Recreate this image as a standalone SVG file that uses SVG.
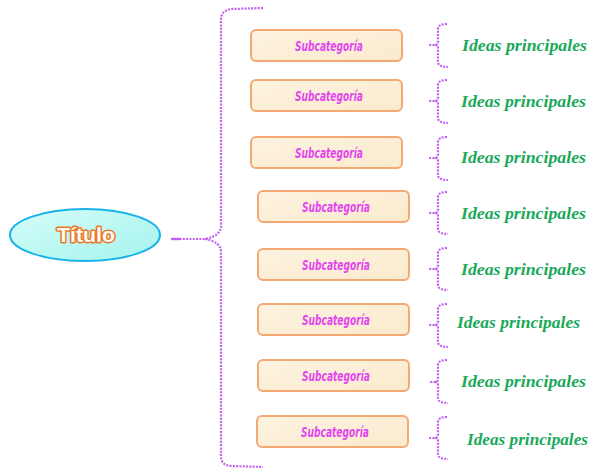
<svg xmlns="http://www.w3.org/2000/svg" width="590" height="468" viewBox="0 0 590 468">
<defs>
<linearGradient id="gEll" x1="0" y1="0" x2="1" y2="1">
<stop offset="0" stop-color="#d8fdf9"/>
<stop offset="1" stop-color="#a2f3ec"/>
</linearGradient>
<linearGradient id="gBox" x1="0" y1="0" x2="1" y2="1">
<stop offset="0" stop-color="#fdf3e0"/>
<stop offset="1" stop-color="#fbeacd"/>
</linearGradient>
<style>
.box{fill:url(#gBox);stroke:#f4a974;stroke-width:2}
.sub{font-family:"DejaVu Sans","Liberation Sans",sans-serif;font-style:italic;font-weight:bold;font-size:14.5px;fill:#e246f0;text-anchor:middle}
.idea{font-family:"Liberation Serif","DejaVu Serif",serif;font-style:italic;font-weight:bold;font-size:17px;fill:#1aa85a}
.dot{fill:none;stroke:#c25ef0;stroke-width:2.2;stroke-dasharray:2 1.3}
</style>
</defs>
<rect width="590" height="468" fill="#ffffff"/>
<g id="connectors">
<path class="dot" d="M263 8 L232 9 Q221 10 221 20 L221 226 Q221 236 205 239 L178 239 M205 239 Q221 242 221 252 L221 456 Q221 466 232 466 L263 467"/>
<line x1="171" y1="239" x2="180" y2="239" stroke="#c25ef0" stroke-width="2.4"/>
<path class="dot" d="M447 24 Q438 24 438 29 L438 42 Q438 45 435 45 L429 45 M435 45 Q438 45 438 48 L438 62 Q438 67 448 67"/>
<path class="dot" d="M447 80 Q438 80 438 85 L438 98 Q438 101 435 101 L429 101 M435 101 Q438 101 438 104 L438 118 Q438 123 448 123"/>
<path class="dot" d="M447 137 Q438 137 438 142 L438 155 Q438 158 435 158 L429 158 M435 158 Q438 158 438 161 L438 175 Q438 180 448 180"/>
<path class="dot" d="M447 192 Q438 192 438 197 L438 210 Q438 213 435 213 L429 213 M435 213 Q438 213 438 216 L438 229 Q438 234 448 234"/>
<path class="dot" d="M447 248 Q438 248 438 253 L438 266 Q438 269 435 269 L429 269 M435 269 Q438 269 438 272 L438 285 Q438 290 448 290"/>
<path class="dot" d="M447 304 Q438 304 438 309 L438 322 Q438 325 435 325 L429 325 M435 325 Q438 325 438 328 L438 342 Q438 347 448 347"/>
<path class="dot" d="M447 360 Q438 360 438 365 L438 379 Q438 382 435 382 L429 382 M435 382 Q438 382 438 385 L438 398 Q438 403 448 403"/>
<path class="dot" d="M447 417 Q438 417 438 422 L438 435 Q438 438 435 438 L429 438 M435 438 Q438 438 438 441 L438 454 Q438 459 448 459"/>
</g>
<g id="titulo">
<ellipse cx="85" cy="235" rx="75" ry="26" fill="url(#gEll)" stroke="#18b2ea" stroke-width="2"/>
<text x="86" y="242" text-anchor="middle" font-family="Liberation Sans, DejaVu Sans, sans-serif" font-weight="bold" font-size="20" textLength="58" lengthAdjust="spacingAndGlyphs" fill="#fff8f0" stroke="#e8782a" stroke-width="3" stroke-linejoin="round" paint-order="stroke">Título</text>
</g>
<g id="sub1"><rect class="box" x="251" y="30" width="151" height="31" rx="5"/><text class="sub" x="329" y="51" textLength="68" lengthAdjust="spacingAndGlyphs">Subcategoría</text></g>
<g id="sub2"><rect class="box" x="251" y="80" width="151" height="31" rx="5"/><text class="sub" x="329" y="101" textLength="68" lengthAdjust="spacingAndGlyphs">Subcategoría</text></g>
<g id="sub3"><rect class="box" x="251" y="137" width="151" height="31" rx="5"/><text class="sub" x="329" y="158" textLength="68" lengthAdjust="spacingAndGlyphs">Subcategoría</text></g>
<g id="sub4"><rect class="box" x="258" y="191" width="151" height="31" rx="5"/><text class="sub" x="336" y="212" textLength="68" lengthAdjust="spacingAndGlyphs">Subcategoría</text></g>
<g id="sub5"><rect class="box" x="258" y="249" width="151" height="31" rx="5"/><text class="sub" x="336" y="270" textLength="68" lengthAdjust="spacingAndGlyphs">Subcategoría</text></g>
<g id="sub6"><rect class="box" x="258" y="304" width="151" height="31" rx="5"/><text class="sub" x="336" y="325" textLength="68" lengthAdjust="spacingAndGlyphs">Subcategoría</text></g>
<g id="sub7"><rect class="box" x="258" y="360" width="151" height="31" rx="5"/><text class="sub" x="336" y="381" textLength="68" lengthAdjust="spacingAndGlyphs">Subcategoría</text></g>
<g id="sub8"><rect class="box" x="257" y="416" width="151" height="31" rx="5"/><text class="sub" x="335" y="437" textLength="68" lengthAdjust="spacingAndGlyphs">Subcategoría</text></g>
<g id="idea1"><text class="idea" x="462" y="51" textLength="125" lengthAdjust="spacingAndGlyphs">Ideas principales</text></g>
<g id="idea2"><text class="idea" x="461" y="107" textLength="125" lengthAdjust="spacingAndGlyphs">Ideas principales</text></g>
<g id="idea3"><text class="idea" x="461" y="163" textLength="125" lengthAdjust="spacingAndGlyphs">Ideas principales</text></g>
<g id="idea4"><text class="idea" x="461" y="219" textLength="125" lengthAdjust="spacingAndGlyphs">Ideas principales</text></g>
<g id="idea5"><text class="idea" x="461" y="275" textLength="125" lengthAdjust="spacingAndGlyphs">Ideas principales</text></g>
<g id="idea6"><text class="idea" x="457" y="328" textLength="123" lengthAdjust="spacingAndGlyphs">Ideas principales</text></g>
<g id="idea7"><text class="idea" x="461" y="387" textLength="125" lengthAdjust="spacingAndGlyphs">Ideas principales</text></g>
<g id="idea8"><text class="idea" x="467" y="445" textLength="121" lengthAdjust="spacingAndGlyphs">Ideas principales</text></g>
</svg>
